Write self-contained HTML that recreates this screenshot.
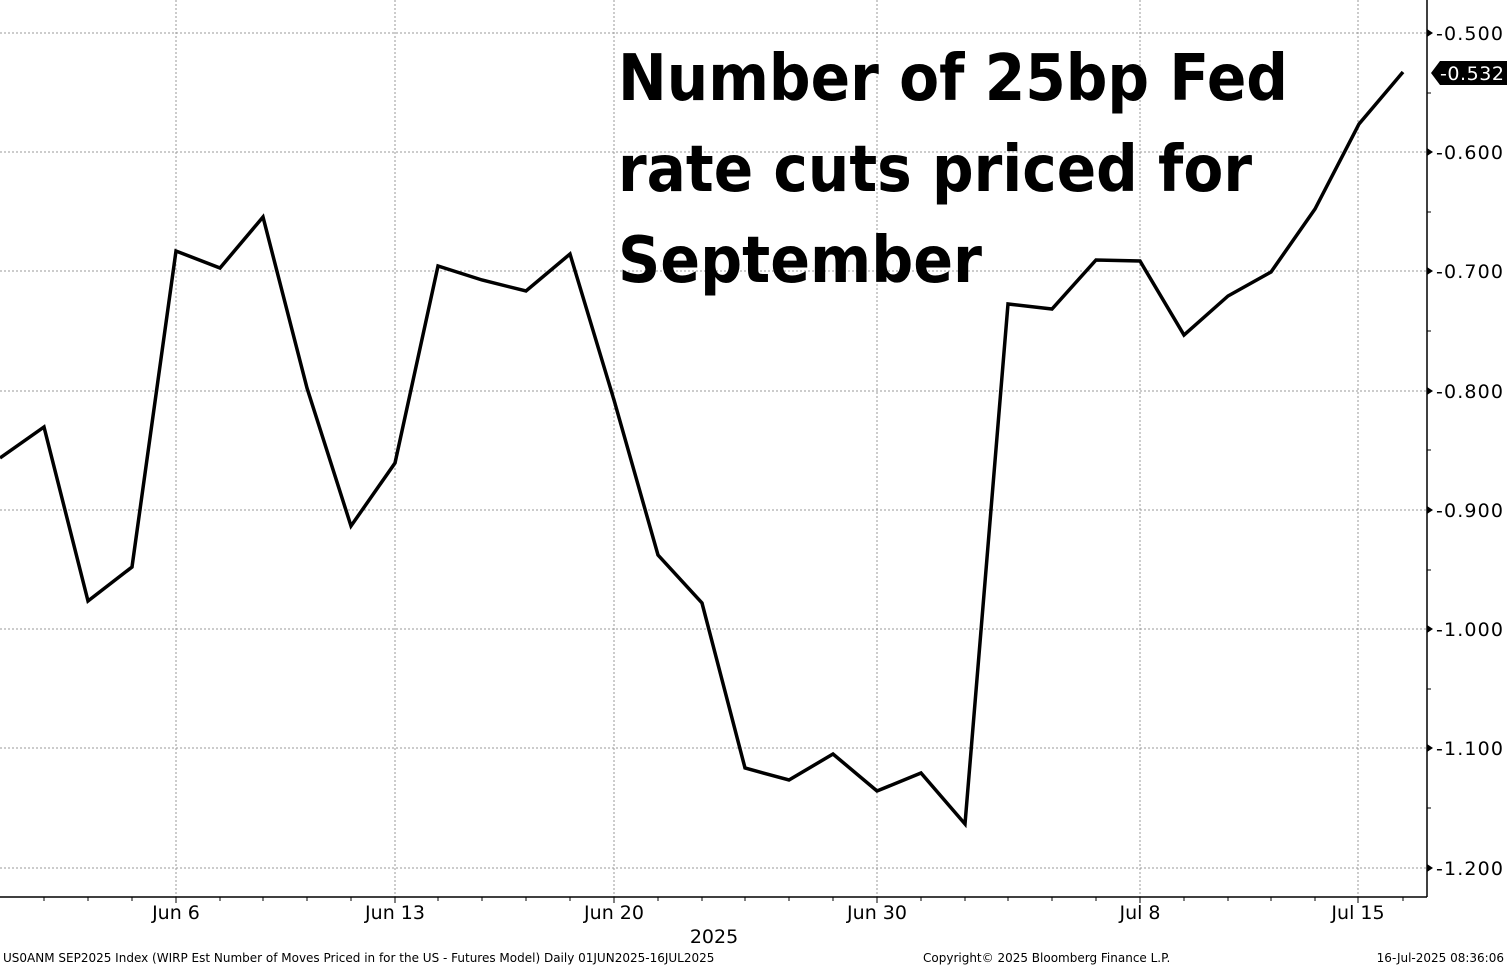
<!DOCTYPE html>
<html><head><style>
html,body{margin:0;padding:0;background:#fff;}
svg{display:block;font-family:"DejaVu Sans","Liberation Sans",sans-serif;}
</style></head><body>
<svg width="1507" height="967" viewBox="0 0 1507 967" xmlns="http://www.w3.org/2000/svg">
<rect width="1507" height="967" fill="#fff"/>
<g stroke="#999" stroke-width="1" stroke-dasharray="2,2">
<line x1="0" y1="33" x2="1427" y2="33"/><line x1="0" y1="152" x2="1427" y2="152"/>
<line x1="0" y1="271" x2="1427" y2="271"/><line x1="0" y1="391" x2="1427" y2="391"/>
<line x1="0" y1="510" x2="1427" y2="510"/><line x1="0" y1="629" x2="1427" y2="629"/>
<line x1="0" y1="748" x2="1427" y2="748"/><line x1="0" y1="868" x2="1427" y2="868"/>
<line x1="176" y1="0" x2="176" y2="897"/><line x1="395" y1="0" x2="395" y2="897"/>
<line x1="614" y1="0" x2="614" y2="897"/><line x1="877" y1="0" x2="877" y2="897"/>
<line x1="1140" y1="0" x2="1140" y2="897"/><line x1="1358" y1="0" x2="1358" y2="897"/>
</g>
<g stroke="#000" stroke-width="1.5">
<line x1="1427" y1="0" x2="1427" y2="897"/><line x1="0" y1="897" x2="1427" y2="897"/>
</g>
<g stroke="#000" stroke-width="1">
<path d="M44 897v4M88 897v4M132 897v4M176 897v6M220 897v4M263 897v4M307 897v4M351 897v4M395 897v6M438 897v4M482 897v4M526 897v4M570 897v4M614 897v6M658 897v4M702 897v4M745 897v4M789 897v4M833 897v4M877 897v6M921 897v4M965 897v4M1008 897v4M1052 897v4M1096 897v4M1140 897v6M1184 897v4M1228 897v4M1271 897v4M1315 897v4M1358 897v6M1403 897v4"/>
<path d="M1427 93h4M1427 212h4M1427 331h4M1427 450h4M1427 570h4M1427 689h4M1427 808h4"/>
</g>
<g fill="#000"><path d="M1427 29l6 4-6 4z"/><path d="M1427 148l6 4-6 4z"/><path d="M1427 267l6 4-6 4z"/><path d="M1427 387l6 4-6 4z"/><path d="M1427 506l6 4-6 4z"/><path d="M1427 625l6 4-6 4z"/><path d="M1427 744l6 4-6 4z"/><path d="M1427 864l6 4-6 4z"/></g>
<g font-size="19" fill="#000">
<text x="1436" y="40" textLength="67">-0.500</text><text x="1436" y="159" textLength="67">-0.600</text><text x="1436" y="278" textLength="67">-0.700</text>
<text x="1436" y="398" textLength="67">-0.800</text><text x="1436" y="517" textLength="67">-0.900</text><text x="1436" y="636" textLength="67">-1.000</text>
<text x="1436" y="755" textLength="67">-1.100</text><text x="1436" y="875" textLength="67">-1.200</text>
</g>
<path d="M1440 61h67v24h-67l-9-12z" fill="#000"/>
<text x="1440" y="80" font-size="19" fill="#fff" textLength="64">-0.532</text>
<g font-size="19" fill="#000" text-anchor="middle">
<text x="176" y="919">Jun 6</text><text x="395" y="919">Jun 13</text><text x="614" y="919">Jun 20</text>
<text x="877" y="919">Jun 30</text><text x="1140" y="919">Jul 8</text><text x="1358" y="919">Jul 15</text>
<text x="714" y="943">2025</text>
</g>
<g font-size="12" fill="#000">
<text x="3" y="962">US0ANM SEP2025 Index (WIRP Est Number of Moves Priced in for the US - Futures Model)  Daily 01JUN2025-16JUL2025</text>
<text x="923" y="962">Copyright© 2025 Bloomberg Finance L.P.</text>
<text x="1504" y="962" text-anchor="end">16-Jul-2025 08:36:06</text>
</g>
<polyline fill="none" stroke="#000" stroke-width="3.5" stroke-linejoin="miter" points="0,458 44,427 88,601 132,567 176,251 220,268 263,217 307,388 351,526 395,463 438,266 482,280 526,291 570,254 614,400 658,555 702,603 745,768 789,780 833,754 877,791 921,773 965,824 1008,304 1052,309 1096,260 1140,261 1184,335 1228,296 1271,272 1315,209 1359,124 1403,72"/>
<g font-size="64" font-weight="bold" fill="#000">
<text x="618" y="100" textLength="670" lengthAdjust="spacingAndGlyphs">Number of 25bp Fed</text>
<text x="618" y="191" textLength="634" lengthAdjust="spacingAndGlyphs">rate cuts priced for</text>
<text x="618" y="282" textLength="364" lengthAdjust="spacingAndGlyphs">September</text>
</g>
</svg>
</body></html>
